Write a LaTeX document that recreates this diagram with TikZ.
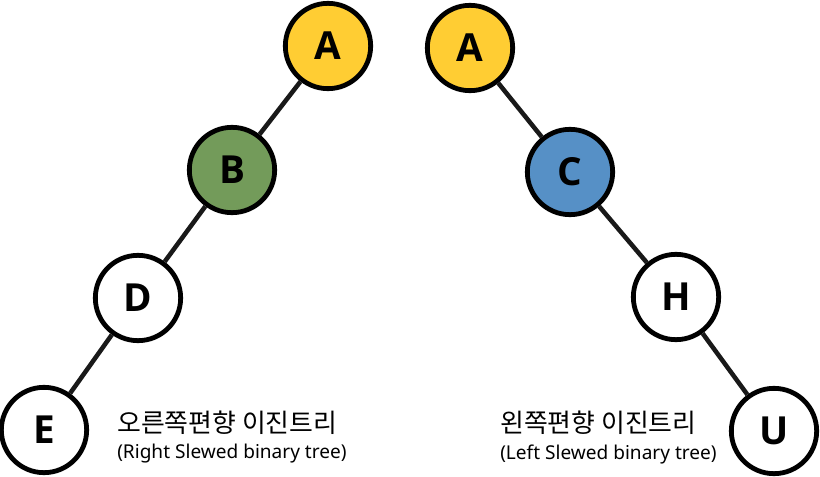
\documentclass[tikz,border=0pt]{standalone}
\usepackage{fontspec}
\setmainfont{Noto Sans}
\newfontfamily\krfont{Noto Sans CJK KR}
\newfontfamily\letterfont{Open Sans}
\definecolor{nodeyellow}{HTML}{FFCD33}
\definecolor{nodegreen}{HTML}{739B5A}
\definecolor{nodeblue}{HTML}{5690C6}
\begin{document}
\begin{tikzpicture}[x=0.75pt,y=-0.75pt]
\tikzstyle{treenode} = [
  shape=circle,
  minimum size=64pt,
  inner sep=0pt,
  line width=3.6pt,
  draw = black,
  fill = white,
  font=\letterfont\bfseries\fontsize{29}{32}\selectfont
]
\tikzstyle{tedge} = [
  draw = black!90,
  line width=3.4pt
]
\tikzstyle{caption} = [
  anchor=west,
  inner sep=0pt
]

\useasboundingbox (0,0) rectangle (820,477);

% right slewed tree
\node [treenode, fill=nodeyellow] (ra) at (328,46) {A};
\node [treenode, fill=nodegreen] (rb) at (232,170) {B};
\node [treenode] (rd) at (138,298) {D};
\node [treenode] (re) at (44,430) {E};

% left slewed tree
\node [treenode, fill=nodeyellow] (la) at (470,48) {A};
\node [treenode, fill=nodeblue] (lc) at (570,172) {C};
\node [treenode] (lh) at (676,297) {H};
\node [treenode] (lu) at (774,431) {U};

\draw[tedge] (ra) -- (rb) -- (rd) -- (re);
\draw[tedge] (la) -- (lc) -- (lh) -- (lu);

\node [caption, font=\krfont\fontsize{19.4}{21}\selectfont] (rtitle) at (117,423) {오른쪽편향 이진트리};
\node [caption, font=\fontsize{14.3}{16}\selectfont] (rsub) at (117,454) {(Right Slewed binary tree)};
\node [caption, font=\krfont\fontsize{19.4}{21}\selectfont] (ltitle) at (500,423) {왼쪽편향 이진트리};
\node [caption, font=\fontsize{14.3}{16}\selectfont] (lsub) at (500,454) {(Left Slewed binary tree)};

\end{tikzpicture}
\end{document}
